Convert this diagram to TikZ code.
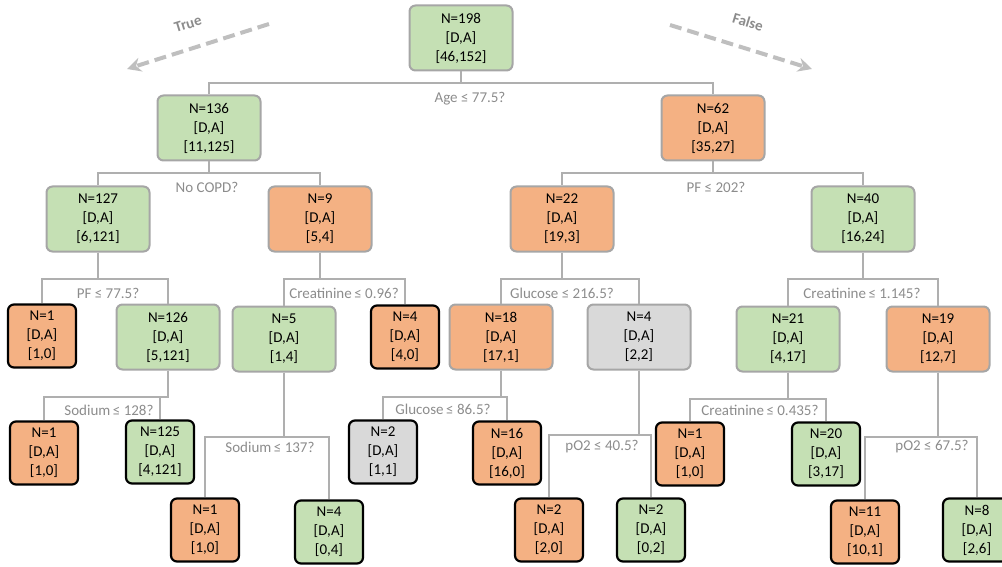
\documentclass[tikz,border=0pt]{standalone}
\usepackage{fontspec}
\setmainfont{Carlito}
\usetikzlibrary{arrows.meta}
\definecolor{alivefill}{HTML}{C5E0B4}
\definecolor{deadfill}{HTML}{F4B183}
\definecolor{tiefill}{HTML}{D9D9D9}
\definecolor{boxline}{HTML}{A6A6A6}
\definecolor{linkline}{HTML}{AFAFAF}
\definecolor{asktext}{HTML}{8C8C8C}
\definecolor{flowline}{HTML}{BFBFBF}
\begin{document}
\begin{tikzpicture}[x=1pt,y=-1pt,font=\fontsize{15}{19}\selectfont,
				split/.style={rectangle, rounded corners=6pt, draw=boxline, line width=2pt, minimum width=103pt, minimum height=65pt, inner sep=0, align=center},
				leaf/.style={split, draw=black, line width=2.2pt, minimum width=68pt, minimum height=63pt},
				alive/.style={fill=alivefill}, dead/.style={fill=deadfill}, tie/.style={fill=tiefill},
				ask/.style={text=asktext, inner sep=1pt},
				link/.style={draw=linkline, line width=2pt},
				flow/.style={draw=flowline, line width=4pt, dash pattern=on 12pt off 6pt, -{Stealth[length=14pt,width=14pt]}},
				flowtext/.style={text=asktext, font=\fontsize{15}{18}\selectfont\bfseries}]
				\useasboundingbox (0,0) rectangle (1002,567);
				
				% root and first splits
				\node [split,alive] (0) at (461,38) {N=198\\{[D,A]}\\{[46,152]}};
				\node [split,alive] (1) at (209,128) {N=136\\{[D,A]}\\{[11,125]}};
				\node [split,dead] (2) at (713,128) {N=62\\{[D,A]}\\{[35,27]}};
				\node [split,alive] (3) at (98,219) {N=127\\{[D,A]}\\{[6,121]}};
				\node [split,dead] (4) at (320,219) {N=9\\{[D,A]}\\{[5,4]}};
				\node [split,dead] (5) at (562,219) {N=22\\{[D,A]}\\{[19,3]}};
				\node [split,alive] (6) at (863,219) {N=40\\{[D,A]}\\{[16,24]}};
				
				% third level
				\node [leaf,dead] (7) at (42,336) {N=1\\{[D,A]}\\{[1,0]}};
				\node [split,alive] (8) at (168,337) {N=126\\{[D,A]}\\{[5,121]}};
				\node [split,alive] (9) at (284,339) {N=5\\{[D,A]}\\{[1,4]}};
				\node [leaf,dead] (10) at (405,337) {N=4\\{[D,A]}\\{[4,0]}};
				\node [split,dead] (11) at (501,337) {N=18\\{[D,A]}\\{[17,1]}};
				\node [split,tie] (12) at (639,337) {N=4\\{[D,A]}\\{[2,2]}};
				\node [split,alive] (13) at (788,339) {N=21\\{[D,A]}\\{[4,17]}};
				\node [split,dead] (14) at (938,339) {N=19\\{[D,A]}\\{[12,7]}};
				
				% leaves below
				\node [leaf,dead] (15) at (44,453) {N=1\\{[D,A]}\\{[1,0]}};
				\node [leaf,alive] (16) at (160,452) {N=125\\{[D,A]}\\{[4,121]}};
				\node [leaf,tie] (17) at (383,452) {N=2\\{[D,A]}\\{[1,1]}};
				\node [leaf,dead] (18) at (507,453) {N=16\\{[D,A]}\\{[16,0]}};
				\node [leaf,dead] (19) at (690,454) {N=1\\{[D,A]}\\{[1,0]}};
				\node [leaf,alive] (20) at (826,454) {N=20\\{[D,A]}\\{[3,17]}};
				\node [leaf,dead] (21) at (205,530) {N=1\\{[D,A]}\\{[1,0]}};
				\node [leaf,alive] (22) at (329,532) {N=4\\{[D,A]}\\{[0,4]}};
				\node [leaf,dead] (23) at (549,530) {N=2\\{[D,A]}\\{[2,0]}};
				\node [leaf,alive] (24) at (651,530) {N=2\\{[D,A]}\\{[0,2]}};
				\node [leaf,dead] (25) at (865,532) {N=11\\{[D,A]}\\{[10,1]}};
				\node [leaf,alive] (26) at (977,530) {N=8\\{[D,A]}\\{[2,6]}};
				
				\begin{scope}[link]
				\draw (0.south) -- ++(0,12) -| (1.north);
				\draw (0.south) -- ++(0,12) -| (2.north);
				\draw (1.south) -- ++(0,12) -| (3.north);
				\draw (1.south) -- ++(0,12) -| (4.north);
				\draw (2.south) -- ++(0,12) -| (5.north);
				\draw (2.south) -- ++(0,12) -| (6.north);
				\draw (3.south) -- ++(0,26) -| (7.north);
				\draw (3.south) -- ++(0,26) -| (8.north);
				\draw (4.south) -- ++(0,26) -| (9.north);
				\draw (4.south) -- ++(0,26) -| (10.north);
				\draw (5.south) -- ++(0,26) -| (11.north);
				\draw (5.south) -- ++(0,26) -| (12.north);
				\draw (6.south) -- ++(0,26) -| (13.north);
				\draw (6.south) -- ++(0,26) -| (14.north);
				\draw (8.south) -- ++(0,26) -| (15.north);
				\draw (8.south) -- ++(0,26) -| (16.north);
				\draw (9.south) -- ++(0,64) -| (21.north);
				\draw (9.south) -- ++(0,64) -| (22.north);
				\draw (11.south) -- ++(0,26) -| (17.north);
				\draw (11.south) -- ++(0,26) -| (18.north);
				\draw (12.south) -- ++(0,64) -| (23.north);
				\draw (12.south) -- ++(0,64) -| (24.north);
				\draw (13.south) -- ++(0,26) -| (19.north);
				\draw (13.south) -- ++(0,26) -| (20.north);
				\draw (14.south) -- ++(0,64) -| (25.north);
				\draw (14.south) -- ++(0,64) -| (26.north);
				\end{scope}
				
				% questions
				\node [ask] (q0) at (470,99) {Age ≤ 77.5?};
				\node [ask] (q1) at (207,187) {No COPD?};
				\node [ask] (q2) at (716,187) {PF ≤ 202?};
				\node [ask] (q3) at (108,293) {PF ≤ 77.5?};
				\node [ask] (q4) at (344,293) {Creatinine\,≤ 0.96?};
				\node [ask] (q5) at (562,293) {Glucose ≤ 216.5?};
				\node [ask] (q6) at (862,293) {Creatinine\,≤ 1.145?};
				\node [ask] (q8) at (109,410) {Sodium\,≤ 128?};
				\node [ask] (q9) at (270,447) {Sodium\,≤ 137?};
				\node [ask] (q11) at (443,409) {Glucose\,≤ 86.5?};
				\node [ask] (q12) at (602,447) {pO2 ≤ 40.5?};
				\node [ask] (q13) at (760,410) {Creatinine\,≤ 0.435?};
				\node [ask] (q14) at (932,447) {pO2 ≤ 67.5?};
				
				% true / false hints
				\coordinate (ts) at (269,24);
				\coordinate (te) at (127,69);
				\coordinate (fs) at (670,25);
				\coordinate (fe) at (812,69);
				\draw [flow] (ts) -- (te);
				\draw [flow] (fs) -- (fe);
				\node [flowtext, rotate=17] (yes) at (188,24) {True};
				\node [flowtext, rotate=-17] (no) at (748,22) {False};
				\end{tikzpicture}
\end{document}
